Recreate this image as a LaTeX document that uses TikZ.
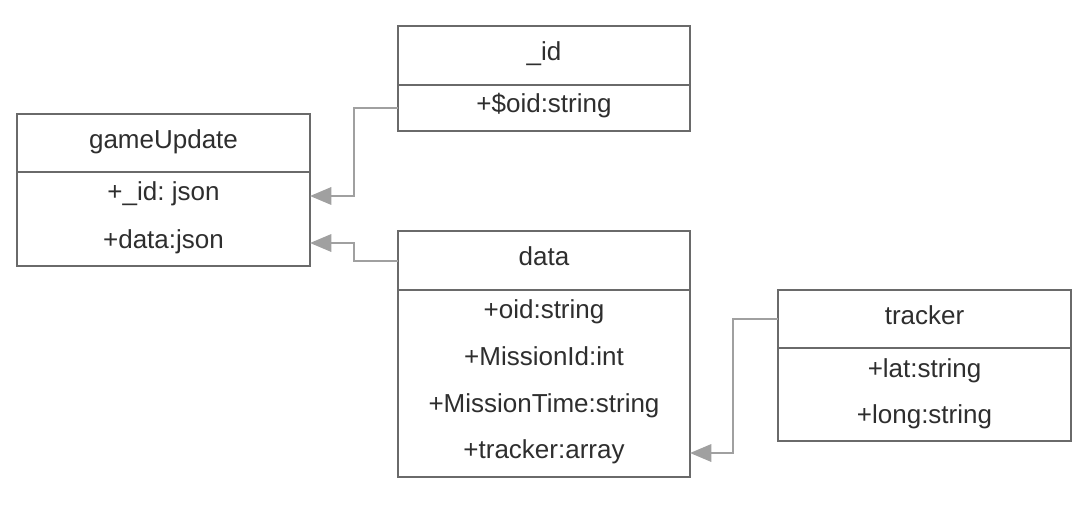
\documentclass[tikz,border=0pt]{standalone}
\usepackage{fontspec}
\setmainfont{Liberation Sans}
\usetikzlibrary{arrows.meta}
\definecolor{boxc}{HTML}{6A6A6A}
\definecolor{linec}{HTML}{A0A0A0}
\definecolor{txtc}{HTML}{2E2E2E}
\begin{document}
\begin{tikzpicture}[x=0.75pt,y=-0.75pt,
  umlbox/.style={draw=boxc,line width=1.8pt,fill=white},
  divider/.style={draw=boxc,line width=1.8pt},
  lbl/.style={text=txtc,font=\fontsize{19.5pt}{23pt}\selectfont\frenchspacing,inner sep=0pt,text height=14.2pt,text depth=4.1pt},
  conn/.style={draw=linec,line width=1.8pt,-{Triangle[length=16pt,width=13pt]}}]
\useasboundingbox (0,0) rectangle (1087,527);
% gameUpdate
\draw[umlbox] (17,114) rectangle (310,266);
\draw[divider] (17,172) -- (310,172);
\coordinate (guE1) at (310,196);
\coordinate (guE2) at (310,243);
\node[lbl] (guh) at (163.5,142) {gameUpdate};
\node[lbl] (gu1) at (163.5,194) {+\_id: json};
\node[lbl] (gu2) at (163.5,242) {+data:json};
% _id
\draw[umlbox] (398,26) rectangle (690,131);
\draw[divider] (398,85) -- (690,85);
\coordinate (idW) at (398,108);
\node[lbl] (idh) at (544,54) {\_id};
\node[lbl] (id1) at (544,106) {+\$oid:string};
% data
\draw[umlbox] (398,231) rectangle (690,477);
\draw[divider] (398,290) -- (690,290);
\coordinate (dataW) at (398,261);
\coordinate (dataE) at (690,453);
\node[lbl] (dh) at (544,259) {data};
\node[lbl] (d1) at (544,312) {+oid:string};
\node[lbl] (d2) at (544,359) {+MissionId:int};
\node[lbl] (d3) at (544,406) {+MissionTime:string};
\node[lbl] (d4) at (544,452) {+tracker:array};
% tracker
\draw[umlbox] (778,290) rectangle (1071,441);
\draw[divider] (778,348) -- (1071,348);
\coordinate (trW) at (778,319);
\node[lbl] (th) at (924.5,318) {tracker};
\node[lbl] (t1) at (924.5,371) {+lat:string};
\node[lbl] (t2) at (924.5,417) {+long:string};
% connectors
\draw[conn] (idW) -- (354,108) -- (354,196) -- (guE1);
\draw[conn] (dataW) -- (354,261) -- (354,243) -- (guE2);
\draw[conn] (trW) -- (733,319) -- (733,453) -- (dataE);
\end{tikzpicture}
\end{document}
